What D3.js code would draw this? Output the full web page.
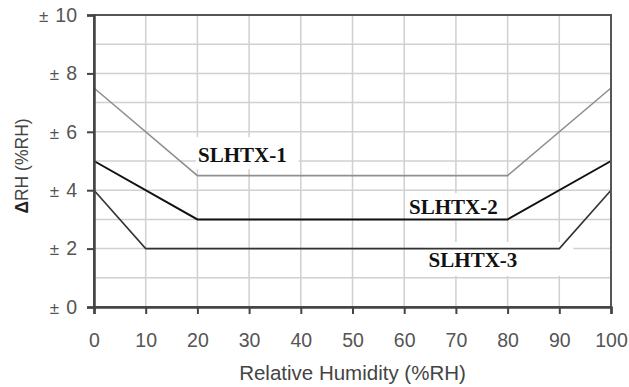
<!DOCTYPE html>
<html>
<head>
<script src="https://cdnjs.cloudflare.com/ajax/libs/d3/7.8.5/d3.min.js"></script>
<style>
  body { margin: 0; background: #fff; }
  svg { display: block; }
</style>
</head>
<body>
<div id="chart"></div>
<script>
// data
const humidity1 = [0, 20, 80, 100];
const error1 = [7.5, 4.5, 4.5, 7.5];
const humidity2 = [0, 20, 80, 100];
const error2 = [5, 3, 3, 5];
const humidity3 = [0, 10, 90, 100];
const error3 = [4, 2, 2, 4];
const seriesNames = ["SLHTX-1", "SLHTX-2", "SLHTX-3"];
const xTicks = [0, 10, 20, 30, 40, 50, 60, 70, 80, 90, 100];
const yTicks = [0, 2, 4, 6, 8, 10];
const yGrid = [1, 2, 3, 4, 5, 6, 7, 8, 9];

const width = 629, height = 387;
const margin = {top: 15, right: 18, bottom: 80, left: 94};

const svg = d3.select("#chart").append("svg")
    .attr("width", width)
    .attr("height", height);

const x = d3.scaleLinear().domain([0, 100]).range([margin.left, width - margin.right]);
const y = d3.scaleLinear().domain([0, 10]).range([height - margin.bottom, margin.top]);

// grid
svg.append("g").selectAll("line").data(xTicks.slice(1, -1)).join("line")
    .attr("x1", d => x(d)).attr("x2", d => x(d))
    .attr("y1", y(10)).attr("y2", y(0))
    .attr("stroke", "#d0d0d0").attr("stroke-width", 1.5);
svg.append("g").selectAll("line").data(yGrid).join("line")
    .attr("x1", x(0)).attr("x2", x(100))
    .attr("y1", d => y(d)).attr("y2", d => y(d))
    .attr("stroke", "#d0d0d0").attr("stroke-width", 1.5);

// series; label position in data units, white box padding in px [left, right, top, bottom]
const series = [
  {name: seriesNames[0], xs: humidity1, ys: error1, color: "#8f8f8f", w: 1.6, lx: 28.7, ly: 5.2, pad: [2, 12, 10, 6]},
  {name: seriesNames[1], xs: humidity2, ys: error2, color: "#111", w: 2, lx: 69.5, ly: 3.42, pad: [4, 4, 6, 6]},
  {name: seriesNames[2], xs: humidity3, ys: error3, color: "#333", w: 1.6, lx: 73.3, ly: 1.61, pad: [4, 56, 10, 8]}
];
const line = d3.line().x(d => x(d[0])).y(d => y(d[1]));

const labels = series.map(s => {
  return svg.append("text")
      .attr("x", x(s.lx)).attr("y", y(s.ly) + 7)
      .attr("text-anchor", "middle")
      .attr("font-family", "Liberation Serif, Times New Roman, serif")
      .attr("font-weight", "bold")
      .attr("font-size", 21)
      .attr("fill", "#111")
      .text(s.name);
});

// label backgrounds hide the grid
series.forEach((s, i) => {
  const b = labels[i].node().getBBox();
  svg.insert("rect", "text")
      .attr("x", b.x - s.pad[0]).attr("y", b.y - s.pad[2] + 4)
      .attr("width", b.width + s.pad[0] + s.pad[1])
      .attr("height", b.height + s.pad[2] + s.pad[3] - 8)
      .attr("fill", "#fff");
});

series.forEach(s => {
  svg.append("path")
      .datum(s.xs.map((v, i) => [v, s.ys[i]]))
      .attr("d", line)
      .attr("fill", "none")
      .attr("stroke", s.color)
      .attr("stroke-width", s.w);
});
labels.forEach(l => svg.node().appendChild(l.node()));

// frame
svg.append("rect")
    .attr("x", x(0)).attr("y", y(10))
    .attr("width", x(100) - x(0)).attr("height", y(0) - y(10))
    .attr("fill", "none").attr("stroke", "#555").attr("stroke-width", 2);

// axes
const xAxis = svg.append("g")
    .attr("transform", `translate(0,${y(0)})`)
    .call(d3.axisBottom(x).tickValues(xTicks).tickSize(7).tickPadding(19));
const yAxis = svg.append("g")
    .attr("transform", `translate(${x(0)},0)`)
    .call(d3.axisLeft(y).tickValues(yTicks).tickSize(7).tickPadding(10).tickFormat(() => ""));
[xAxis, yAxis].forEach(a => {
  a.select(".domain").attr("stroke", "#444").attr("stroke-width", 2.5);
  a.selectAll(".tick line").attr("stroke", "#444").attr("stroke-width", 2);
  a.selectAll(".tick text")
      .attr("font-family", "Liberation Sans, Arial, sans-serif")
      .attr("font-size", 19.5)
      .attr("fill", "#555");
});
yAxis.selectAll(".tick text").each(function(d) {
  const t = d3.select(this);
  t.append("tspan").attr("font-size", 17).text("\u00b1");
  t.append("tspan").attr("dx", 7).text(d);
});

// titles
svg.append("text")
    .attr("x", (x(0) + x(100)) / 2).attr("y", 380)
    .attr("text-anchor", "middle")
    .attr("font-family", "Liberation Sans, Arial, sans-serif")
    .attr("font-size", 20.5)
    .attr("fill", "#444")
    .text("Relative Humidity (%RH)");

const yTitle = svg.append("text")
    .attr("transform", `translate(28,${(y(0) + y(10)) / 2 + 5}) rotate(-90)`)
    .attr("text-anchor", "middle")
    .attr("font-family", "Liberation Sans, Arial, sans-serif")
    .attr("font-size", 17.5)
    .attr("fill", "#444");
yTitle.append("tspan").attr("font-weight", "bold").attr("fill", "#222").text("\u0394");
yTitle.append("tspan").text("RH (%RH)");
</script>
</body>
</html>
